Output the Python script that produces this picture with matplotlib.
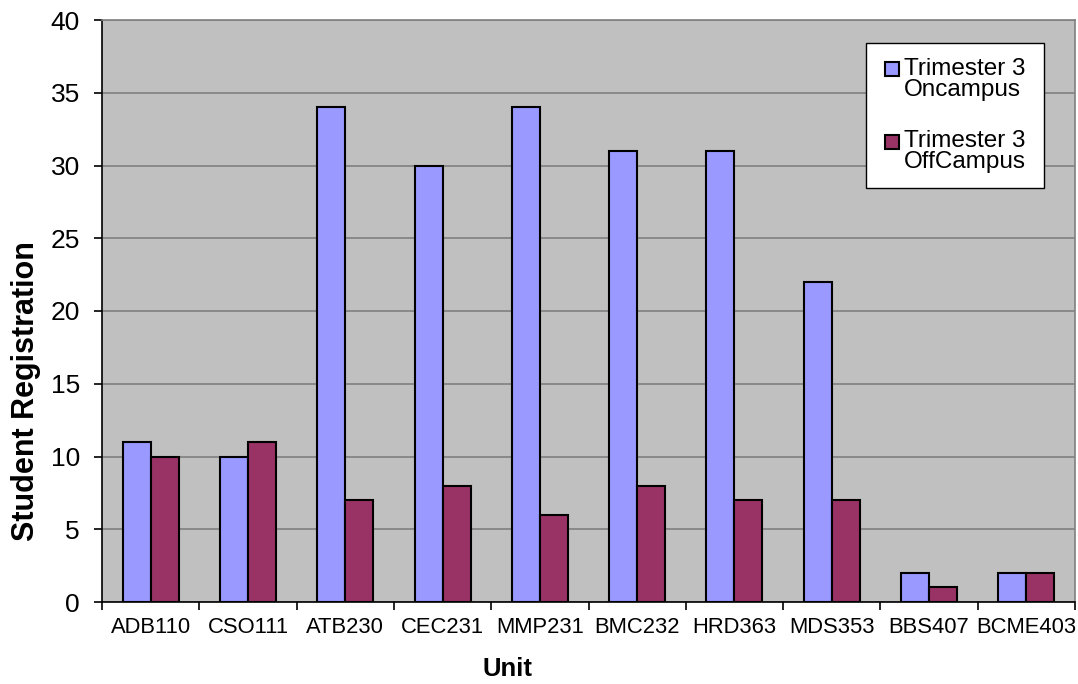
import matplotlib.pyplot as plt
from matplotlib.legend_handler import HandlerBase
from matplotlib.patches import Rectangle
import numpy as np

plt.rcParams['font.family'] = ['Liberation Sans', 'DejaVu Sans']

units = ['ADB110', 'CSO111', 'ATB230', 'CEC231', 'MMP231',
         'BMC232', 'HRD363', 'MDS353', 'BBS407', 'BCME403']
oncampus = [11, 10, 34, 30, 34, 31, 31, 22, 2, 2]
offcampus = [10, 11, 7, 8, 6, 8, 7, 7, 1, 2]


class TopSquare(HandlerBase):
    # small square key level with the first line of a two-line label
    def create_artists(self, legend, orig_handle, xdescent, ydescent,
                       width, height, fontsize, trans):
        s = 0.58 * fontsize
        r = Rectangle((-xdescent + width - s, -ydescent + height - s + 0.1 * fontsize),
                      s, s, facecolor=orig_handle.get_facecolor(), edgecolor='black',
                      linewidth=1.5, transform=trans)
        return [r]


fig = plt.figure(figsize=(10.78, 6.84), dpi=100)
ax = fig.add_axes([102 / 1078, 82 / 684, 973 / 1078, 582 / 684])
ax.set_facecolor('#c0c0c0')

x = np.arange(len(units))
w = 0.288
b1 = ax.bar(x - w / 2, oncampus, w, color='#9999ff', edgecolor='black',
            linewidth=1.5, label='Trimester 3\nOncampus', zorder=3)
b2 = ax.bar(x + w / 2, offcampus, w, color='#993366', edgecolor='black',
            linewidth=1.5, label='Trimester 3\nOffCampus', zorder=3)

ax.set_xlim(-0.5, len(units) - 0.5)
ax.set_ylim(0, 40)
ax.set_yticks(range(0, 41, 5))
ax.yaxis.grid(True, color='#808080', linewidth=1.2, zorder=1)

# category ticks sit on the boundaries, labels in the middle
ax.set_xticks(np.arange(len(units) + 1) - 0.5)
ax.set_xticklabels([])
ax.set_xticks(x, minor=True)
ax.set_xticklabels(units, minor=True, fontsize=15.8)
ax.tick_params(axis='x', which='minor', length=0, pad=11)
ax.tick_params(axis='x', which='major', length=6, width=1.2, direction='out')
ax.tick_params(axis='y', length=6, width=1.2, direction='out', labelsize=19, pad=10)

for s in ['top', 'right']:
    ax.spines[s].set_color('#808080')
    ax.spines[s].set_linewidth(1.2)
for s in ['left', 'bottom']:
    ax.spines[s].set_color('black')
    ax.spines[s].set_linewidth(1.2)

ax.set_ylabel('Student Registration', fontsize=22, fontweight='bold')
ax.yaxis.set_label_coords(-0.063, 0.3625)
ax.set_xlabel('Unit', fontsize=18.5, fontweight='bold')
ax.xaxis.set_label_coords(0.417, -0.094)

h1, h2 = b1.patches[0], b2.patches[0]
leg = ax.legend(handles=[h1, h2], labels=[b1.get_label(), b2.get_label()],
                loc='upper left', bbox_to_anchor=(0.785, 0.715, 0.183, 0.2455),
                mode='expand', borderaxespad=0, fontsize=17.5, fancybox=False,
                frameon=True, framealpha=1, edgecolor='black',
                handler_map={h1: TopSquare(), h2: TopSquare()},
                handlelength=0.78, handleheight=1.5, handletextpad=0.18,
                labelspacing=1.2, borderpad=0.6)
leg.get_frame().set_linewidth(1.0)
for t in leg.get_texts():
    t.set_linespacing(0.95)

fig.savefig('out.png', dpi=100)
